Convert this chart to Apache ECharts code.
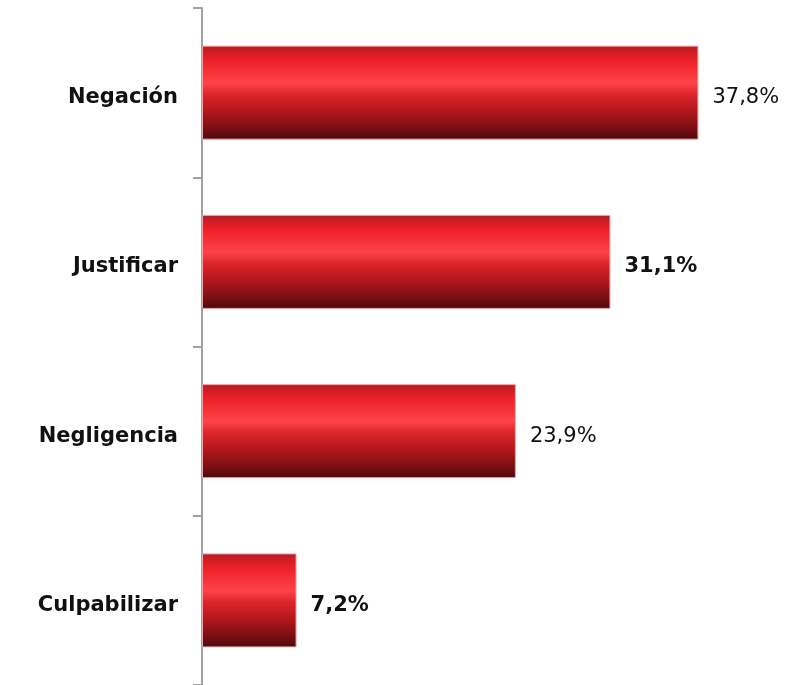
<!DOCTYPE html>
<html>
<head>
<meta charset="utf-8">
<script src="https://cdn.jsdelivr.net/npm/echarts@6/dist/echarts.min.js"></script>
<style>
  html, body { margin: 0; padding: 0; background: #fff; }
  #chart { width: 798px; height: 685px; }
</style>
</head>
<body>
<div id="chart"></div>
<script>
var categories = ["Negación", "Justificar", "Negligencia", "Culpabilizar"];
var values = [37.8, 31.1, 23.9, 7.2];
var valueLabels = ["37,8%", "31,1%", "23,9%", "7,2%"];
var labelWeights = ["normal", "bold", "normal", "bold"];

var myChart = echarts.init(document.getElementById("chart"));

// degradado vertical de la barra (arriba -> abajo)
var barGradient = new echarts.graphic.LinearGradient(0, 0, 0, 1, [
  { offset: 0, color: "#b81b21" },
  { offset: 0.15, color: "#ec2027" },
  { offset: 0.4, color: "#ff424a" },
  { offset: 0.52, color: "#dd242b" },
  { offset: 0.68, color: "#b7181e" },
  { offset: 0.84, color: "#861116" },
  { offset: 1, color: "#4e090b" }
]);

var seriesData = values.map(function (v, i) {
  return {
    value: v,
    label: {
      formatter: valueLabels[i],
      fontWeight: labelWeights[i]
    }
  };
});

myChart.setOption({
  animation: false,
  grid: { left: 202, right: 5, top: 8, bottom: -3, containLabel: false },
  xAxis: {
    type: "value",
    min: 0,
    max: 45,
    show: false
  },
  yAxis: {
    type: "category",
    inverse: true,
    data: categories,
    axisLine: { show: true, lineStyle: { color: "#a0a0a0", width: 2 } },
    axisTick: { show: true, length: 9, lineStyle: { color: "#a0a0a0", width: 2 } },
    axisLabel: {
      margin: 24,
      formatter: function (v) { return "{c|" + v + "}"; },
      rich: {
        c: {
          padding: [10, 0, 0, 0],
          color: "#111",
          fontSize: 21,
          fontWeight: "bold",
          fontFamily: "DejaVu Sans"
        }
      }
    },
    splitLine: { show: false }
  },
  series: [
    {
      type: "bar",
      barWidth: 94,
      data: seriesData,
      itemStyle: {
        color: barGradient,
        borderColor: "#eaa5a7",
        borderWidth: 1
      },
      label: {
        show: true,
        position: "right",
        distance: 14,
        offset: [0, 5],
        color: "#111",
        fontSize: 21,
        fontFamily: "DejaVu Sans"
      }
    }
  ]
});
</script>
</body>
</html>
